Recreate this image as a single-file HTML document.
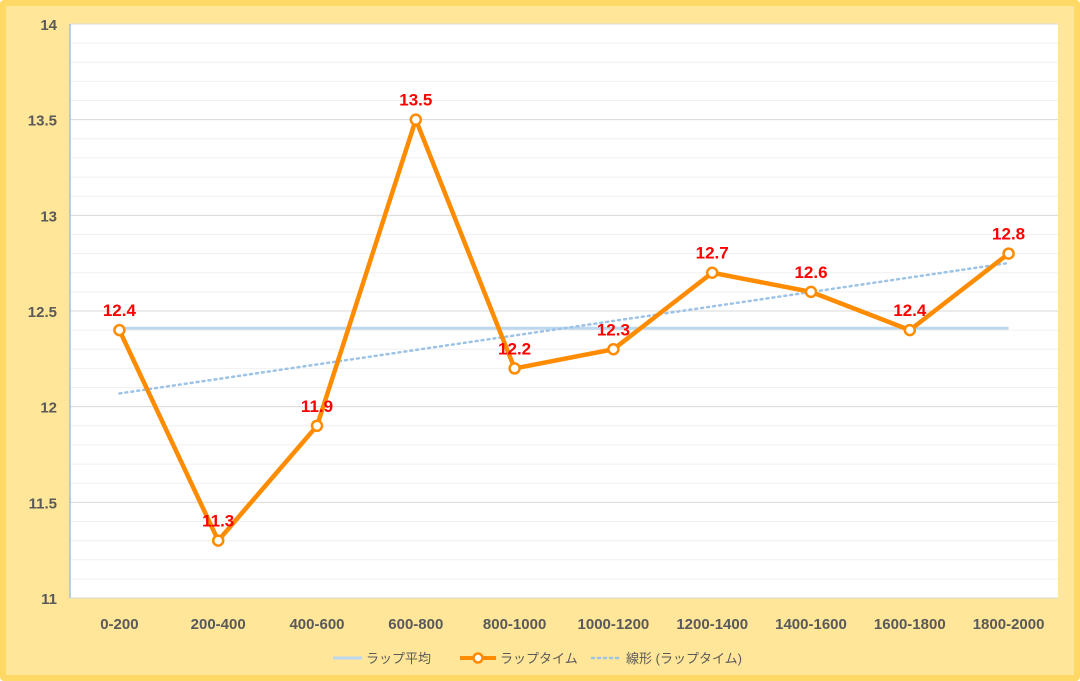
<!DOCTYPE html>
<html><head><meta charset="utf-8"><style>
body{margin:0;width:1080px;height:681px;overflow:hidden;font-family:"Liberation Sans","Noto Sans CJK JP",sans-serif}
#c{position:absolute;left:0;top:0;width:1068px;height:669px;background:#FFE699;border:6px solid #FFD966;border-radius:4px}
</style></head><body>
<div id="c"></div>
<svg id="s" width="1080" height="681" style="position:absolute;left:0;top:0"></svg>
<script>
const categories=["0-200","200-400","400-600","600-800","800-1000","1000-1200","1200-1400","1400-1600","1600-1800","1800-2000"];
const lapTimes=[12.4,11.3,11.9,13.5,12.2,12.3,12.7,12.6,12.4,12.8];
const yTicks=[11,11.5,12,12.5,13,13.5,14];
const NS="http://www.w3.org/2000/svg",s=document.getElementById('s');
const L=70,R=1058,T=24,B=598,yMin=11,yMax=14;
const x=i=>L+(R-L)/categories.length*(i+0.5);
const y=v=>B-(v-yMin)/(yMax-yMin)*(B-T);
function el(t,a,p){const e=document.createElementNS(NS,t);for(const k in a)e.setAttribute(k,a[k]);(p||s).appendChild(e);return e;}
let r=el('rect',{x:L,y:T,width:R-L,height:B-T,fill:'#fff'});


for(let v=yMin;v<=yMax+1e-9;v+=0.1){const major=Math.abs(v*2-Math.round(v*2))<1e-6;
 let g=el('line',{x1:L,x2:R,y1:y(v),y2:y(v),stroke:major?'#d9d9d9':'#f0f0f0','stroke-width':1});
 
 }
let ax=el('line',{x1:L,x2:L,y1:T,y2:B,stroke:'#9dc3d6','stroke-width':1.5});


yTicks.forEach(v=>{let t=el('text',{x:57,y:y(v)+6,'text-anchor':'end','font-size':15,'font-weight':'bold',fill:'#595959'});t.textContent=v;
 
 });
categories.forEach((c,i)=>{let t=el('text',{x:x(i),y:629,'text-anchor':'middle','font-size':15,'font-weight':'bold',fill:'#595959'});t.textContent=c;
 
 });
const n=lapTimes.length,avg=lapTimes.reduce((a,b)=>a+b,0)/n;
let al=el('line',{x1:x(0),x2:x(n-1),y1:y(avg),y2:y(avg),stroke:'#bdd7ee','stroke-width':3});


let mx=(n-1)/2,sxy=0,sxx=0;lapTimes.forEach((v,i)=>{sxy+=(i-mx)*(v-avg);sxx+=(i-mx)**2});
const sl=sxy/sxx,b0=avg-sl*mx;
let tl=el('line',{x1:x(0),x2:x(n-1),y1:y(b0),y2:y(b0+sl*(n-1)),stroke:'#9dc3e6','stroke-width':2.5,'stroke-dasharray':'2 4','stroke-linecap':'round'});


let pl=el('polyline',{points:lapTimes.map((v,i)=>x(i)+','+y(v)).join(' '),fill:'none',stroke:'#ff8c00','stroke-width':4.5,'stroke-linejoin':'round'});


lapTimes.forEach((v,i)=>{let c=el('circle',{cx:x(i),cy:y(v),r:5,fill:'#fff',stroke:'#ff8c00','stroke-width':2.5});
 
 
 let t=el('text',{x:x(i),y:y(v)-14,'text-anchor':'middle','font-size':17,'font-weight':'bold',fill:'#ff0000'});t.textContent=v.toFixed(1);
 
 });
// legend
let lg=el('g',{});


let a1=el('line',{x1:333,x2:362,y1:658,y2:658,stroke:'#bdd7ee','stroke-width':3},lg);
let t1=el('text',{x:366,y:663,'font-size':13,fill:'#595959'},lg);t1.textContent='ラップ平均';


el('line',{x1:460,x2:496,y1:658,y2:658,stroke:'#ff8c00','stroke-width':4},lg);
el('circle',{cx:478,cy:658,r:4.5,fill:'#fff',stroke:'#ff8c00','stroke-width':2.5},lg);
let t2=el('text',{x:500,y:663,'font-size':13,fill:'#595959'},lg);t2.textContent='ラップタイム';


el('line',{x1:592,x2:622,y1:658,y2:658,stroke:'#9dc3e6','stroke-width':2.5,'stroke-dasharray':'2 4','stroke-linecap':'round'},lg);
let t3=el('text',{x:626,y:663,'font-size':13,fill:'#595959'},lg);t3.textContent='線形 (ラップタイム)';


</script>
</body></html>
